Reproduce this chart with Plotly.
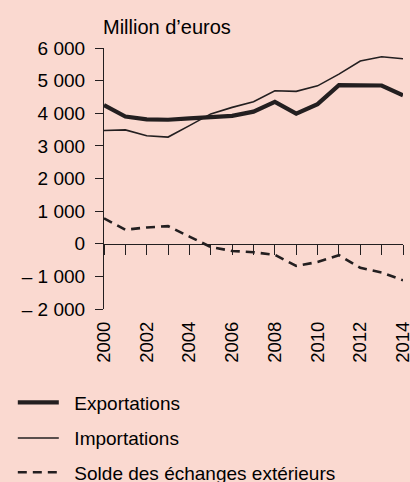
import plotly.graph_objects as go

years = list(range(2000, 2015))
exportations = [4250, 3900, 3810, 3800, 3840, 3870, 3920, 4050, 4350, 3990, 4280, 4860, 4860, 4850, 4550]
importations = [3470, 3490, 3310, 3270, 3620, 3980, 4180, 4350, 4690, 4670, 4840, 5200, 5600, 5730, 5670]
solde = [780, 430, 500, 540, 220, -100, -220, -260, -340, -680, -560, -350, -740, -880, -1120]
series_names = ["Exportations", "Importations", "Solde des échanges extérieurs"]

y_tickvals = [6000, 5000, 4000, 3000, 2000, 1000, 0, -1000, -2000]
y_ticktext = ["6 000", "5 000", "4 000", "3 000", "2 000", "1 000", "0", "– 1 000", "– 2 000"]
x_tickvals = [2000, 2002, 2004, 2006, 2008, 2010, 2012, 2014]
x_ticktext = [str(v) for v in x_tickvals]

INK = "#231F20"
BG = "#FAD9D0"
FONT = "Liberation Sans, Arial, sans-serif"
PAD = "\u00a0\u00a0"

fig = go.Figure()
fig.add_trace(go.Scatter(x=years, y=exportations, mode="lines", name=PAD + series_names[0],
                         line=dict(color=INK, width=4.2), cliponaxis=False, legend="legend"))
fig.add_trace(go.Scatter(x=years, y=importations, mode="lines", name=PAD + series_names[1],
                         line=dict(color=INK, width=1.6), cliponaxis=False, legend="legend2"))
fig.add_trace(go.Scatter(x=years, y=solde, mode="lines", name=PAD + series_names[2],
                         line=dict(color=INK, width=2.6, dash="9px,6px"), cliponaxis=False, legend="legend3"))
# helper trace on the zero-line axis (carries the tick marks at y = 0)
fig.add_trace(go.Scatter(x=[years[0], years[-1]], y=[0, 0], xaxis="x2", mode="lines",
                         line=dict(color="rgba(0,0,0,0)", width=0), showlegend=False, hoverinfo="skip"))

legend_common = dict(font=dict(family=FONT, size=19, color="black"), bgcolor="rgba(0,0,0,0)",
                     xanchor="left", yanchor="middle", borderwidth=0, itemwidth=41)

fig.update_layout(
    width=410, height=482,
    paper_bgcolor=BG, plot_bgcolor=BG,
    margin=dict(l=104, r=7, t=48, b=173, autoexpand=False),
    font=dict(family=FONT, color="black"),
    xaxis=dict(range=[2000, 2014], tickvals=x_tickvals, ticktext=x_ticktext, tickangle=-90,
               showline=False, showgrid=False, zeroline=False, ticks="", automargin=False,
               ticklabeloverflow="allow",
               tickfont=dict(size=18.5, family=FONT, color="black"), ticklabelstandoff=8),
    xaxis2=dict(range=[2000, 2014], overlaying="x", anchor="free", position=0.25, side="bottom",
                showline=True, linecolor=INK, linewidth=1.2, ticks="outside", ticklen=10,
                tickwidth=1.2, tickcolor=INK, dtick=1, tick0=2000, showticklabels=False,
                showgrid=False, zeroline=False, automargin=False),
    yaxis=dict(range=[-2000, 6000], tickvals=y_tickvals, ticktext=y_ticktext,
               showline=True, linecolor=INK, linewidth=1.2, ticks="outside", ticklen=8,
               tickwidth=1.2, tickcolor=INK, showgrid=False, zeroline=False, automargin=False,
               tickfont=dict(size=19, family=FONT, color="black"), ticklabelstandoff=6),
    legend=dict(x=-0.305, y=-0.358, **legend_common),
    legend2=dict(x=-0.305, y=-0.495, **legend_common),
    legend3=dict(x=-0.305, y=-0.626, **legend_common),
    annotations=[dict(text="Million d’euros", xref="paper", yref="paper", x=0, y=1,
                      xanchor="left", yanchor="bottom", yshift=8, xshift=-3, showarrow=False,
                      font=dict(family=FONT, size=20, color="black"))],
)

fig.write_html("out.html", config={"displayModeBar": False},
               post_script="document.body.style.margin='0';document.body.style.padding='0';"
                           "document.body.style.overflow='hidden';")
